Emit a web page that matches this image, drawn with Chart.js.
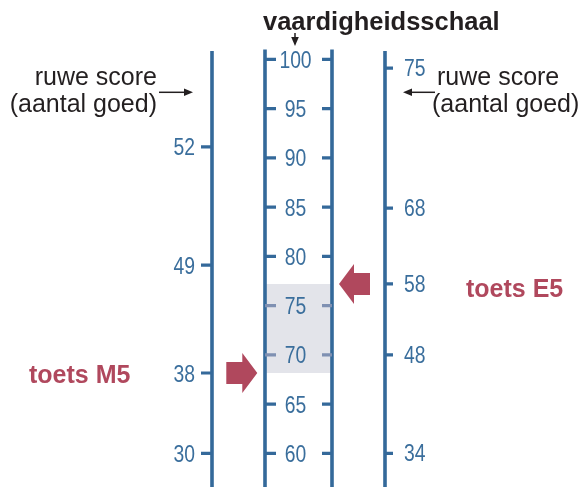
<!DOCTYPE html>
<html>
<head>
<meta charset="utf-8">
<script src="https://cdn.jsdelivr.net/npm/chart.js@4.4.1/dist/chart.umd.min.js"></script>
<style>
  html, body { margin: 0; padding: 0; background: #fff; }
  #wrap { width: 587px; height: 487px; position: relative; }
</style>
</head>
<body>
<div id="wrap"><canvas id="nomogram"></canvas></div>
<script>
// vaardigheidsschaal (middle scale)
const skillTicks = [60, 65, 70, 75, 80, 85, 90, 95, 100];
// raw scores toets M5 (left) and where they sit on the skill scale
const m5Scores = [52, 49, 38, 30];
const m5OnSkill = [91.1, 79.1, 68.15, 60.0];
// raw scores toets E5 (right) and where they sit on the skill scale
const e5Scores = [75, 68, 58, 48, 34];
const e5OnSkill = [99.1, 84.9, 77.2, 70.0, 60.0];
// the two results marked with arrows
const m5Result = 38;
const e5Result = 58;

const BLUE = '#34699a';
const LABEL = '#3a6e9c';
const RED = '#b0485d';
const BAND = '#e3e4ea';
const BAND_TICK = '#7f90b2';
const INK = '#231f20';
const FONT = '"Liberation Sans", Arial, sans-serif';

const xLeft = 212, xMidL = 265, xMidR = 332, xRight = 385;

const m5Pos = m5OnSkill[m5Scores.indexOf(m5Result)];
const e5Pos = e5OnSkill[e5Scores.indexOf(e5Result)];
const bandLow = Math.min(m5Pos, e5Pos), bandHigh = Math.max(m5Pos, e5Pos);

function seg(x1, x2, y) {
  return [{x: x1, y: y}, {x: x2, y: y}, {x: x2, y: null}];
}

const inBand = v => v > bandLow && v < bandHigh;
let midTicks = [], bandTicks = [];
skillTicks.forEach(v => {
  const pts = seg(xMidL, xMidL + 11, v).concat(seg(xMidR - 10, xMidR, v));
  if (inBand(v)) bandTicks = bandTicks.concat(pts); else midTicks = midTicks.concat(pts);
});
let sideTicks = [];
m5OnSkill.forEach(v => { sideTicks = sideTicks.concat(seg(xLeft - 11, xLeft, v)); });
e5OnSkill.forEach(v => { sideTicks = sideTicks.concat(seg(xRight, xRight + 8, v)); });

function vline(x, top) {
  return {data: [{x: x, y: top}, {x: x, y: 50}], borderColor: BLUE, borderWidth: 3.6};
}

const base = {showLine: true, pointRadius: 0, borderCapStyle: 'butt'};
const datasets = [
  {data: midTicks, borderColor: BLUE, borderWidth: 3.2},
  {data: bandTicks, borderColor: BAND_TICK, borderWidth: 3.2},
  {data: sideTicks, borderColor: BLUE, borderWidth: 3.2},
  vline(xLeft, 100.84),
  vline(xMidL, 101.0),
  vline(xMidR, 101.0),
  vline(xRight, 100.84),
  {data: [{x: xMidL, y: bandHigh}, {x: xMidR, y: bandHigh}], borderWidth: 0,
   borderColor: 'rgba(0,0,0,0)', backgroundColor: BAND, fill: {value: bandLow}}
].map(d => Object.assign({}, base, d));

function arrowHead(ctx, x1, y1, x2, y2) {
  // small line arrow from (x1,y1) to (x2,y2)
  const a = Math.atan2(y2 - y1, x2 - x1);
  ctx.beginPath();
  ctx.moveTo(x1, y1);
  ctx.lineTo(x2 - 6 * Math.cos(a), y2 - 6 * Math.sin(a));
  ctx.stroke();
  ctx.beginPath();
  ctx.moveTo(x2, y2);
  ctx.lineTo(x2 - 9 * Math.cos(a) + 3.8 * Math.sin(a), y2 - 9 * Math.sin(a) - 3.8 * Math.cos(a));
  ctx.lineTo(x2 - 9 * Math.cos(a) - 3.8 * Math.sin(a), y2 - 9 * Math.sin(a) + 3.8 * Math.cos(a));
  ctx.closePath();
  ctx.fill();
}

function bigArrow(ctx, tipX, tipY, dir) {
  // dir = 1 points right, -1 points left
  const head = 15, shaft = 16, hh = 20, sh = 11;
  ctx.beginPath();
  ctx.moveTo(tipX, tipY);
  ctx.lineTo(tipX - dir * head, tipY - hh);
  ctx.lineTo(tipX - dir * head, tipY - sh);
  ctx.lineTo(tipX - dir * (head + shaft), tipY - sh);
  ctx.lineTo(tipX - dir * (head + shaft), tipY + sh);
  ctx.lineTo(tipX - dir * head, tipY + sh);
  ctx.lineTo(tipX - dir * head, tipY + hh);
  ctx.closePath();
  ctx.fill();
}

function digits(ctx, text, x, y, align) {
  ctx.save();
  ctx.translate(x, y);
  ctx.scale(0.84, 1);
  ctx.textAlign = align;
  ctx.fillText(text, 0, 0);
  ctx.restore();
}

const labelsPlugin = {
  id: 'nomogramLabels',
  afterDraw(chart) {
    const ctx = chart.ctx;
    const y = chart.scales.y;
    ctx.save();
    ctx.textBaseline = 'alphabetic';

    // tick labels
    ctx.fillStyle = LABEL;
    ctx.font = '23px ' + FONT;
    skillTicks.forEach(v => digits(ctx, String(v), 295.5, y.getPixelForValue(v) + 8.5, 'center'));
    m5Scores.forEach((s, i) => digits(ctx, String(s), 195, y.getPixelForValue(m5OnSkill[i]) + 8.5, 'right'));
    e5Scores.forEach((s, i) => digits(ctx, String(s), 404, y.getPixelForValue(e5OnSkill[i]) + 8, 'left'));

    // result arrows
    ctx.fillStyle = RED;
    bigArrow(ctx, 257.3, y.getPixelForValue(m5Pos), 1);
    bigArrow(ctx, 339, y.getPixelForValue(e5Pos), -1);

    // test names
    ctx.font = 'bold 25px ' + FONT;
    ctx.textAlign = 'left';
    ctx.fillText('toets M5', 29, y.getPixelForValue(m5Pos) + 10);
    ctx.fillText('toets E5', 466, y.getPixelForValue(e5Pos) + 13);

    // title and annotations
    ctx.fillStyle = INK;
    ctx.strokeStyle = INK;
    ctx.lineWidth = 1.5;
    ctx.font = 'bold 25.5px ' + FONT;
    ctx.fillText('vaardigheidsschaal', 263, 30);
    arrowHead(ctx, 295, 33, 295, 46);

    ctx.font = '25px ' + FONT;
    ctx.textAlign = 'right';
    ctx.fillText('ruwe score', 157, 85);
    ctx.fillText('(aantal goed)', 157, 112);
    arrowHead(ctx, 159, 92.3, 193, 92.3);

    ctx.textAlign = 'left';
    ctx.fillText('ruwe score', 437, 85);
    ctx.fillText('(aantal goed)', 432, 112);
    arrowHead(ctx, 435, 92.3, 403, 92.3);
    ctx.restore();
  }
};

const skillPerPx = 1 / 9.85;
new Chart(document.getElementById('nomogram').getContext('2d'), {
  type: 'scatter',
  data: {datasets: datasets},
  options: {
    responsive: true,
    maintainAspectRatio: false,
    animation: false,
    layout: {padding: 0},
    plugins: {legend: {display: false}, tooltip: {enabled: false}},
    scales: {
      x: {type: 'linear', min: 0, max: 587, display: false},
      y: {type: 'linear', min: 100 + 59.3 * skillPerPx - 487 * skillPerPx, max: 100 + 59.3 * skillPerPx, display: false}
    }
  },
  plugins: [labelsPlugin]
});
</script>
</body>
</html>
